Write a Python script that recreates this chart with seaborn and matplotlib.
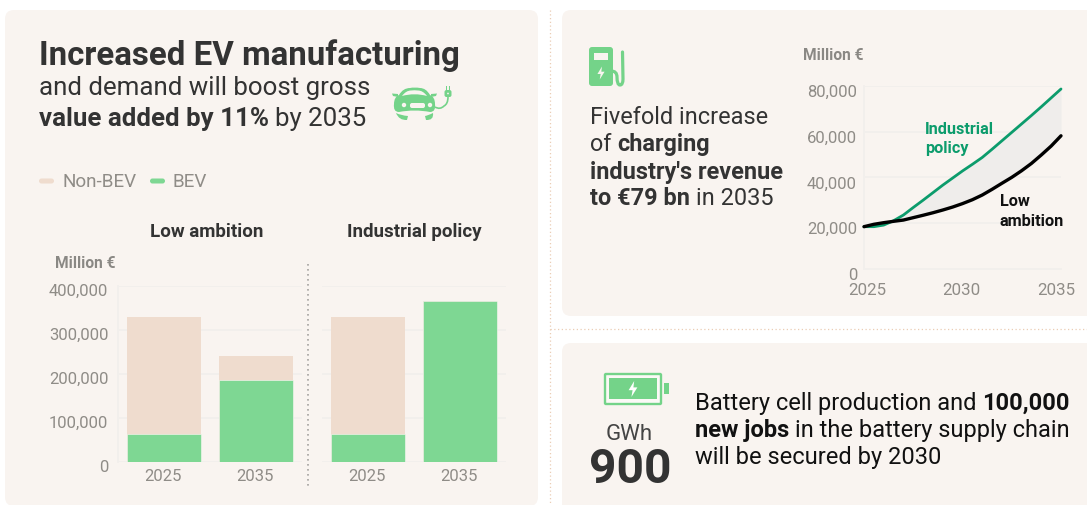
import numpy as np
import pandas as pd
import matplotlib.pyplot as plt
import matplotlib.transforms as mtransforms
from matplotlib.patches import FancyBboxPatch, Circle, Polygon, Rectangle, PathPatch
from matplotlib.path import Path
import seaborn as sns

# bar chart values (million EUR)
bar_years = ['2025', '2035']
low_bev = [62000, 185600]
low_non_bev = [267500, 54400]
ind_bev = [62000, 365000]
ind_non_bev = [267500, 0]
bar_ticks = [0, 100000, 200000, 300000, 400000]

# charging revenue lines (million EUR), read every half year
line_years = [2025, 2025.5, 2026, 2026.5, 2027, 2027.5, 2028, 2028.5, 2029, 2029.5, 2030,
              2030.5, 2031, 2031.5, 2032, 2032.5, 2033, 2033.5, 2034, 2034.5, 2035]
line_industrial = [18400, 18400, 19100, 21000, 23500, 26800, 30000, 33300, 36600, 39700, 42800,
                   45700, 48700, 52300, 56000, 59700, 63400, 67100, 70900, 74800, 78700]
line_low = [18400, 19440, 20150, 20750, 21300, 22350, 23400, 24500, 25700, 27000, 28500,
            30200, 32250, 34750, 37400, 40000, 42900, 46100, 49800, 53700, 58200]
line_ticks = [0, 20000, 40000, 60000, 80000]

CARD = '#F9F4F0'
PEACH = '#EFDCCE'
GREEN = '#7ED793'
ICON = '#74D389'
DARK_GREEN = '#0C9C6C'
GRID = '#F2EFEC'
TICK = '#8F8C87'
TITLE = '#333333'

sns.set_theme(style='white')
plt.rcParams['font.family'] = ['Roboto', 'DejaVu Sans']

W, H = 1087, 505
fig = plt.figure(figsize=(W / 100, H / 100), dpi=100, facecolor='white')

# pixel canvas for the cards, text and icons
bg = fig.add_axes([0, 0, 1, 1], zorder=0)
bg.set_xlim(0, W)
bg.set_ylim(H, 0)
bg.axis('off')


def card(x0, y0, x1, y1):
    bg.add_patch(FancyBboxPatch((x0, y0), x1 - x0, y1 - y0, boxstyle='round,pad=0,rounding_size=9',
                                fc=CARD, ec='none'))


card(5, 10, 538, 506)
card(562, 10, 1110, 316)
card(562, 343, 1110, 530)
bg.plot([550, 550], [10, 505], color='#EBCDB5', lw=0.9, ls=(0, (1, 2)))
bg.plot([550, 1087], [329, 329], color='#EBCDB5', lw=0.9, ls=(0, (1, 2)))
bg.plot([308, 308], [264, 488], color='#A5A3A0', lw=1.2, ls=(0, (1, 2)))


def rich(x, y, parts, size, color=TITLE):
    # draw regular/bold pieces one after the other on a baseline
    rend = fig.canvas.get_renderer()
    gap = size * 100 / 72 * 0.25
    for word, bold in parts:
        t = bg.text(x, y, word, fontsize=size, color=color, va='baseline', ha='left',
                    fontweight='bold' if bold else 'normal')
        x += t.get_window_extent(rend).width + gap


rich(39, 65, [('Increased EV manufacturing', True)], 23.8)
rich(39, 95, [('and demand will boost gross', False)], 18.6)
rich(39, 126, [('value added by 11%', True), ('by 2035', False)], 18.6)

# legend
bg.add_patch(FancyBboxPatch((39, 178.5), 15, 5, boxstyle='round,pad=0,rounding_size=2.5', fc=PEACH, ec='none'))
bg.text(63, 182, 'Non-BEV', fontsize=13.6, color=TICK, va='center')
bg.add_patch(FancyBboxPatch((150, 178.5), 15, 5, boxstyle='round,pad=0,rounding_size=2.5', fc=GREEN, ec='none'))
bg.text(172, 182, 'BEV', fontsize=13.6, color=TICK, va='center')

bg.text(207, 232, 'Low ambition', fontsize=13.5, fontweight='bold', color=TITLE, ha='center', va='center')
bg.text(414, 232, 'Industrial policy', fontsize=13.5, fontweight='bold', color=TITLE, ha='center', va='center')
bg.text(55, 263, 'Million €', fontsize=11.2, fontweight='bold', color='#8A8884', va='center')

# right top card
rich(590, 124, [('Fivefold increase', False)], 16.9)
rich(590, 151, [('of', False), ('charging', True)], 16.9)
rich(590, 179, [("industry's revenue", True)], 16.9)
rich(590, 205, [('to €79 bn', True), ('in 2035', False)], 16.9)
bg.text(803, 55, 'Million €', fontsize=11.2, fontweight='bold', color='#8A8884', va='center')

# right bottom card
rich(695, 410, [('Battery cell production and', False), ('100,000', True)], 17.0, '#111111')
rich(695, 437, [('new jobs', True), ('in the battery supply chain', False)], 17.0, '#111111')
rich(695, 464, [('will be secured by 2030', False)], 17.0, '#111111')
bg.text(629, 440, 'GWh', fontsize=16, color='#444444', ha='center', va='baseline')
bg.text(630, 483, '900', fontsize=34.5, fontweight='bold', color=TITLE, ha='center', va='baseline')


def bolt(cx, cy, s, color='white'):
    shape = np.array([[0.15, -1], [-0.55, 0.15], [-0.05, 0.15], [-0.2, 1], [0.55, -0.2], [0.05, -0.2]])
    bg.add_patch(Polygon(shape * s + [cx, cy], fc=color, ec='none'))


def curve(points, color):
    # points: first a moveto, then pairs of control/end points
    codes = [Path.MOVETO] + [Path.CURVE3] * (len(points) - 1)
    bg.add_patch(PathPatch(Path(points, codes), fc=color, ec='none'))


# charger icon
bg.add_patch(FancyBboxPatch((589, 47), 24, 39, boxstyle='round,pad=0,rounding_size=3', fc=ICON, ec='none'))
bg.add_patch(Rectangle((594, 53), 14, 7, fc=CARD, ec='none'))
bolt(601, 73, 6.5, CARD)
hose = Path([(611, 71), (617, 71), (617, 77), (617, 85), (620, 85), (623, 85), (623, 79), (622.5, 52)],
            [Path.MOVETO, Path.CURVE3, Path.CURVE3, Path.CURVE3, Path.CURVE3, Path.CURVE3, Path.CURVE3, Path.LINETO])
bg.add_patch(PathPatch(hose, fc='none', ec=ICON, lw=2.3, capstyle='round'))

# car icon
curve([(394, 104), (394, 97), (399, 95), (403, 88), (410, 88), (414.5, 87), (420, 88), (426, 88), (430, 95),
       (435, 97), (435, 104), (436, 112), (430, 112), (414.5, 109), (399, 112), (393, 112), (394, 104)], ICON)
curve([(402, 96), (406, 90.5), (411, 90.5), (414.5, 90), (418, 90.5), (423, 90.5), (427, 96),
       (414.5, 92.5), (402, 96)], CARD)
bg.add_patch(Polygon([[392, 93.5], [398, 94], [398, 97], [393, 96]], fc=ICON, ec='none'))
bg.add_patch(Polygon([[437, 93.5], [431, 94], [431, 97], [436, 96]], fc=ICON, ec='none'))
bg.add_patch(FancyBboxPatch((410, 103), 15, 5, boxstyle='round,pad=0,rounding_size=2', fc=CARD, ec='none'))
bg.add_patch(Circle((404, 105), 2.2, fc=CARD, ec='none'))
bg.add_patch(Circle((430, 105), 2.2, fc=CARD, ec='none'))
curve([(396, 113), (401, 115.5), (408, 116), (407.5, 118), (407, 120), (399, 120.5), (396, 113)], ICON)
curve([(433, 113), (428, 115.5), (425, 116), (425.5, 118), (426, 120), (434, 120.5), (433, 113)], ICON)
cable = Path([(435, 107), (440, 110), (444, 106), (448, 104), (448, 97)],
             [Path.MOVETO, Path.CURVE3, Path.CURVE3, Path.CURVE3, Path.CURVE3])
bg.add_patch(PathPatch(cable, fc='none', ec=ICON, lw=1.2))
bg.add_patch(FancyBboxPatch((444.5, 90), 7, 7, boxstyle='round,pad=0,rounding_size=2', fc=ICON, ec='none'))
bg.add_patch(Rectangle((445.5, 86), 1.4, 4, fc=ICON, ec='none'))
bg.add_patch(Rectangle((449, 86), 1.4, 4, fc=ICON, ec='none'))
bg.add_patch(Circle((448, 93.5), 0.9, fc=CARD, ec='none'))

# battery icon
bg.add_patch(FancyBboxPatch((605, 374), 56, 30, boxstyle='round,pad=0,rounding_size=1', fc='#FBF9F6', ec=ICON, lw=1.7))
bg.add_patch(Rectangle((609, 378), 48, 21, fc=ICON, ec='none'))
bg.add_patch(Rectangle((664, 383), 5, 11, fc=ICON, ec='none'))
bolt(633, 389, 8)


def ax_px(x0, y0, x1, y1):
    ax = fig.add_axes([x0 / W, 1 - y1 / H, (x1 - x0) / W, (y1 - y0) / H], zorder=2)
    ax.patch.set_alpha(0)
    return ax


def shift(label, dx, dy):
    off = mtransforms.ScaledTranslation(dx / 100, dy / 100, fig.dpi_scale_trans)
    label.set_transform(label.get_transform() + off)


def stacked(ax, bev, non_bev, show_y):
    df = pd.DataFrame({'year': bar_years, 'bev': bev, 'total': np.add(bev, non_bev)})
    sns.barplot(data=df, x='year', y='total', color=PEACH, saturation=1, width=0.8, ax=ax, zorder=3, linewidth=0)
    sns.barplot(data=df, x='year', y='bev', color=GREEN, saturation=1, width=0.8, ax=ax, zorder=4,
                edgecolor='#FBF8F5', linewidth=0.4)
    ax.set_xlim(-0.5, 1.5)
    ax.set_ylim(0, 400000)
    ax.set_xlabel('')
    ax.set_ylabel('')
    ax.set_yticks(bar_ticks)
    ax.grid(axis='y', color=GRID, lw=1.3, zorder=1)
    ax.grid(axis='x', visible=False)
    sns.despine(ax=ax, left=True, right=True, top=True, bottom=True)
    ax.tick_params(axis='x', length=0, pad=5, labelsize=12, labelcolor=TICK)
    if show_y:
        ax.set_yticklabels([f'{v:,}' for v in bar_ticks])
        ax.tick_params(axis='y', length=0, pad=7, labelsize=12, labelcolor=TICK)
        for lab in ax.get_yticklabels():
            shift(lab, 0, -4.5)
        ax.spines['left'].set_visible(True)
        ax.spines['left'].set_color(GRID)
        ax.spines['left'].set_linewidth(1.3)
    else:
        ax.tick_params(axis='y', left=False, labelleft=False)
    for lab in ax.get_xticklabels():
        shift(lab, -1.5, 0)


ax_low = ax_px(118, 285.7, 302, 461.7)
stacked(ax_low, low_bev, low_non_bev, True)
ax_ind = ax_px(322, 285.7, 506, 461.7)
stacked(ax_ind, ind_bev, ind_non_bev, False)

# charging revenue lines
ax = ax_px(864, 86, 1061, 268.7)
ax.fill_between(line_years, line_low, line_industrial, color='#EFEDEB', lw=0, zorder=2)
sns.lineplot(x=line_years, y=line_industrial, color=DARK_GREEN, lw=2.0, ax=ax, zorder=3, clip_on=False)
sns.lineplot(x=line_years, y=line_low, color='black', lw=2.4, ax=ax, zorder=4, clip_on=False)
ax.set_xlim(2025, 2035)
ax.set_ylim(0, 80000)
ax.set_xticks([2025, 2030, 2035])
ax.set_xticks(line_years[::2], minor=True)
ax.set_yticks(line_ticks)
ax.set_yticklabels([f'{v:,}' for v in line_ticks])
ax.grid(axis='y', color=GRID, lw=1.3, zorder=1)
ax.grid(axis='x', visible=False)
sns.despine(ax=ax, right=True, top=True)
for side in ['left', 'bottom']:
    ax.spines[side].set_color(GRID)
    ax.spines[side].set_linewidth(1.3)
ax.tick_params(axis='y', length=0, pad=5, labelsize=12, labelcolor=TICK)
ax.tick_params(axis='x', which='major', length=2, width=1, color='#E6E3E0', pad=8, labelsize=12.2, labelcolor=TICK)
ax.tick_params(axis='x', which='minor', length=2, width=1, color='#E6E3E0')
for lab in ax.get_yticklabels():
    shift(lab, 0, -5)
for lab, dx in zip(ax.get_xticklabels(), [3, -1, -5]):
    shift(lab, dx, 0)

# line labels sit above the gridlines, so they go in the chart axes
for x, y, word, col in [(925, 129, 'Industrial', DARK_GREEN), (925, 148, 'policy', DARK_GREEN),
                        (1000, 202, 'Low', '#111111'), (1000, 221, 'ambition', '#111111')]:
    ax.text(x, y, word, fontsize=11.7, fontweight='bold', color=col, va='center', transform=bg.transData,
            zorder=6, clip_on=False)

fig.savefig('out.png', dpi=100)
